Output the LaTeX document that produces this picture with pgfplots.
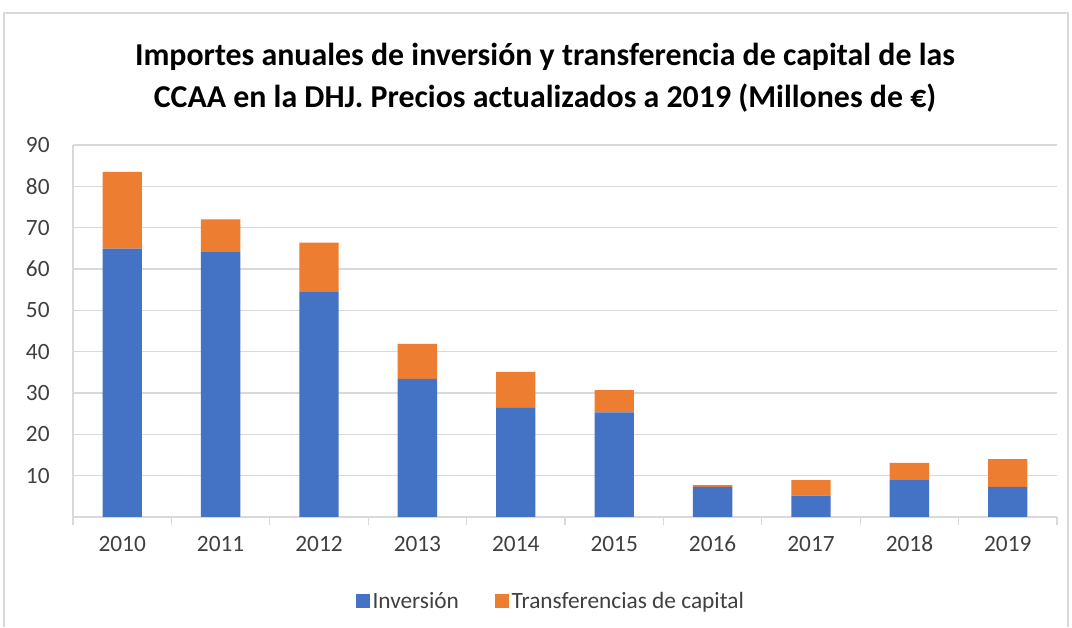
\documentclass[border=0pt]{standalone}
\usepackage{pgfplots}
\pgfplotsset{compat=1.18}
\usepackage{fontspec}
\setmainfont{Carlito}
\definecolor{cblue}{HTML}{4472C4}
\definecolor{corange}{HTML}{ED7D31}
\definecolor{cgrid}{HTML}{D9D9D9}
\definecolor{ctext}{HTML}{404040}
\begin{document}
\begin{tikzpicture}[x=0.75pt,y=0.75pt]
\fill[white] (0,0) rectangle (1072,627);
\draw[cgrid,line width=1pt] (4,0) -- (4,614) -- (1068,614) -- (1068,0);
\node[font=\bfseries\fontsize{23.9}{30}\selectfont, align=center, text=black] at (545,549) {Importes anuales de inversión y transferencia de capital de las\\[1.5pt]CCAA en la DHJ. Precios actualizados a 2019 (Millones de €)};
\begin{axis}[
  at={(54.75pt,82.5pt)}, anchor=south west, scale only axis,
  width=738pt, height=279pt,
  xmin=-0.5, xmax=9.5, ymin=0, ymax=90,
  ybar stacked, bar width=0.4,
  xtick={-0.5,0.5,...,9.5},
  x tick label as interval,
  xticklabels={2010,2011,2012,2013,2014,2015,2016,2017,2018,2019},
  ytick={10,20,...,90},
  ymajorgrids, grid style={cgrid,line width=1pt},
  axis x line*=bottom, axis y line*=left,
  axis line style={cgrid,line width=1pt},
  x axis line style={-},
  y axis line style={-},
  xtick style={cgrid,line width=1pt},
  ytick style={draw=none},
  tick align=outside, major tick length=6pt,
  ticklabel style={font=\fontsize{17.5}{20}\selectfont, text=ctext},
  /pgf/number format/assume math mode=true,
  xticklabel style={yshift=-4pt, text height=12pt, text depth=0pt},
  yticklabel style={xshift=-8pt},
  legend style={at={(0.486,-0.226)}, anchor=center, draw=none, legend columns=2,
    font=\fontsize{17.5}{20}\selectfont, text=ctext,
    /tikz/every even column/.append style={column sep=25pt}},
  legend image code/.code={\fill[#1] (0,-5.25pt) rectangle (10.5pt,5.25pt);},
]
\addplot[fill=cblue, draw=none] coordinates {(0,64.9) (1,64.1) (2,54.6) (3,33.4) (4,26.4) (5,25.3) (6,7.3) (7,5.2) (8,8.9) (9,7.3)};
\addplot[fill=corange, draw=none] coordinates {(0,18.6) (1,7.9) (2,11.8) (3,8.5) (4,8.7) (5,5.4) (6,0.4) (7,3.7) (8,4.2) (9,6.7)};
\legend{Inversión, Transferencias de capital}
\end{axis}
\end{tikzpicture}
\end{document}
